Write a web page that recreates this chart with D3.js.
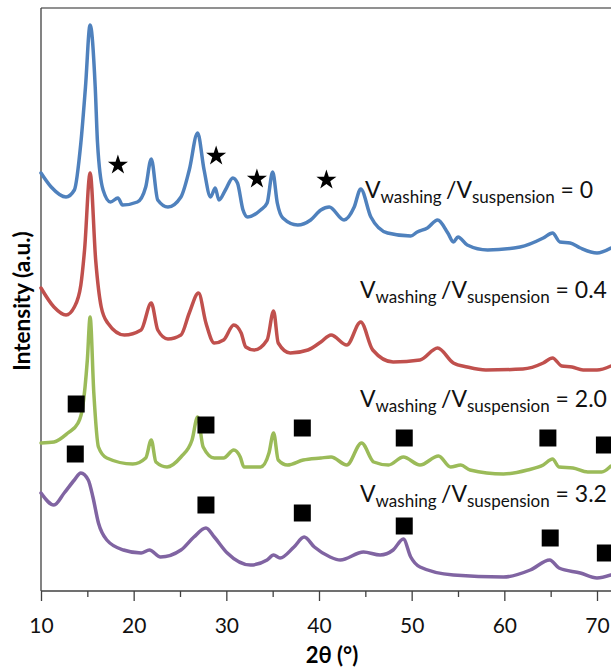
<!DOCTYPE html>
<html><head><meta charset="utf-8">
<script src="https://cdn.jsdelivr.net/npm/d3@7"></script>
<style>body{margin:0;background:#fff}svg{display:block}</style>
</head><body>
<svg id="c" width="611" height="669"></svg>
<script>
// ---- data (2θ in degrees, intensity in arbitrary offset units) ----
const xTicks = [10, 20, 30, 40, 50, 60, 70];
const xMinorTicks = [15, 25, 35, 45, 55, 65];
const ratioLabels = ["0", "0.4", "2.0", "3.2"];

const theta0 = [10,11.1,12.7,13.6,14.3,14.8,15.3,15.85,16.1,16.7,17.5,18.3,18.8,20.4,21.3,21.9,22.6,23.7,25.1,26.0,26.9,27.6,28.3,28.8,29.2,29.9,30.7,31.2,31.8,32.3,33.7,34.4,35.0,35.5,36.1,37.7,39.1,40.2,41.1,42.7,43.8,44.5,45.6,47.4,49.9,50.6,51.7,52.8,53.9,54.5,55.0,56.0,58.2,61.7,64.2,65.2,66.0,67.1,68.2,70.0,71.5];
const int0   = [418,404,394,401,448,504,566,504,448,401,389,393,386,389,404,432,391,384,394,421,458,421,394,403,391,401,413,408,381,374,381,388,419,388,373,366,371,381,384,371,384,402,374,358,355,359,363,371,358,349,354,346,341,344,353,358,349,348,343,338,343];

const theta1 = [10,11.4,12.7,13.6,14.3,14.7,15.3,15.9,16.5,17.2,19,20.8,21.9,22.6,23.7,25.1,26,27,27.8,28.7,29.7,30.8,31.6,32.1,33,34.4,35.1,35.6,36.9,38.8,40.2,41.3,43,44.5,45.8,48,50.9,52.8,54.5,56,58,62,64.2,65.2,66.2,67.3,68.5,70,71.5];
const int1   = [303,284,276,284,306,341,418,331,284,268,256,261,288,261,252,256,278,298,268,248,251,266,258,244,241,251,280,248,238,241,249,256,246,269,241,229,231,243,228,224,221,222,228,233,225,224,221,221,225];

const theta2 = [10,11.4,12.9,14,14.5,15,15.3,15.7,16.2,17.1,19.9,21.3,21.9,22.4,23.6,25.1,26.3,26.9,27.5,28.7,29.7,30.8,31.5,31.9,33.7,34.6,35.1,35.6,36.6,38.3,40.2,41.3,43,44.6,45.9,47.5,49.1,50.9,52.9,54.2,55.3,56.3,59.9,62.5,64.2,65.2,65.9,67.4,69,70.5,71.5];
const int2   = [148,149,158,168,184,231,274,198,144,133,127,133,151,129,124,134,151,174,144,133,133,141,134,124,124,138,158,131,126,131,133,134,126,148,129,126,134,126,135,124,126,121,117,121,126,132,124,123,119,119,125];

const theta3 = [10,11.4,12.5,13.6,14.3,15.1,15.6,16.2,17.1,18.9,20.8,21.7,22.9,25.1,26.5,27.8,28.7,30.1,32.6,34.4,35.1,35.8,37.3,38.4,39.5,41.2,42.3,44.8,46.6,48,49.1,49.9,50.9,54.5,59.9,62.8,64.9,65.9,68.2,70,71.5];
const int3   = [98,86,98,111,118,111,94,68,51,41,38,41,34,41,54,63,54,38,26,31,36,33,44,54,44,34,31,39,36,41,52,34,24,16,14,21,31,23,18,13,16];

const starTheta = [18.3, 28.9, 33.3, 40.8];
const starInt   = [426, 435, 412, 411];

const squareThetaA = [13.8, 27.8, 38.2, 49.2, 64.7, 70.8];
const squareIntA   = [187, 166, 163, 153, 153, 146];
const squareThetaB = [13.7, 27.8, 38.2, 49.2, 64.95, 70.9];
const squareIntB   = [137, 86, 78, 65, 53, 38];

// ---- drawing ----
const colors = ["#4f81bd", "#c0504d", "#9bbb59", "#8064a2"];
const svg = d3.select("#c");
const W = 611, H = 669;
const mLeft = 41, mTop = 8, mBottom = 591;
const x = d3.scaleLinear().domain([10, 70]).range([mLeft, 597]);
const y = d3.scaleLinear().domain([0, 583]).range([mBottom, mTop]);
const font = "Lato, 'Open Sans', sans-serif";

// frame
svg.append("line").attr("x1", mLeft).attr("x2", W).attr("y1", mTop).attr("y2", mTop)
  .attr("stroke", "#6d6d6d").attr("stroke-width", 1.3);
svg.append("line").attr("x1", mLeft).attr("x2", mLeft).attr("y1", mTop).attr("y2", mBottom)
  .attr("stroke", "#404040").attr("stroke-width", 1.3);

const series = [[theta0, int0], [theta1, int1], [theta2, int2], [theta3, int3]];
const line = d3.line().x(d => x(d[0])).y(d => y(d[1])).curve(d3.curveMonotoneX);
series.forEach((s, i) => {
  const pts = s[0].map((t, k) => [t, s[1][k]]);
  svg.append("path").datum(pts).attr("d", line)
    .attr("fill", "none").attr("stroke", colors[i]).attr("stroke-width", 3.5)
    .attr("stroke-linejoin", "round").attr("stroke-linecap", "round");
});

// x axis
const gx = svg.append("g").attr("transform", `translate(0,${mBottom})`);
gx.call(d3.axisBottom(x).tickValues(xTicks).tickSize(10).tickSizeOuter(0));
gx.select(".domain").remove();
gx.selectAll(".tick line").attr("stroke", "#404040").attr("stroke-width", 1.3);
gx.selectAll(".tick text").attr("font-family", font).attr("font-size", 21).attr("fill", "#111")
  .attr("y", 27).attr("dy", "0.71em");
const gm = svg.append("g").attr("transform", `translate(0,${mBottom})`);
gm.call(d3.axisBottom(x).tickValues(xMinorTicks).tickSize(6).tickFormat(""));
gm.select(".domain").remove();
gm.selectAll(".tick line").attr("stroke", "#404040").attr("stroke-width", 1.3);
svg.append("line").attr("x1", mLeft).attr("x2", W).attr("y1", mBottom).attr("y2", mBottom)
  .attr("stroke", "#404040").attr("stroke-width", 1.3);

// axis titles
svg.append("text").attr("x", 332).attr("y", 663).attr("text-anchor", "middle")
  .attr("font-family", font).attr("font-weight", "bold").attr("font-size", 22).attr("fill", "#000")
  .text("2θ (°)");
svg.append("text").attr("transform", "translate(30,301) rotate(-90)").attr("text-anchor", "middle")
  .attr("font-family", font).attr("font-weight", "bold").attr("font-size", 22.5).attr("fill", "#000")
  .text("Intensity (a.u.)");

// stars
const star = d3.symbol().type(d3.symbolStar).size(125);
svg.selectAll(".star").data(starTheta).enter().append("path")
  .attr("d", star).attr("fill", "#000")
  .attr("transform", (d, i) => `translate(${x(d)},${y(starInt[i])})`);

// squares
const sq = d3.symbol().type(d3.symbolSquare).size(289);
[[squareThetaA, squareIntA], [squareThetaB, squareIntB]].forEach(s => {
  svg.selectAll(null).data(s[0]).enter().append("path")
    .attr("d", sq).attr("fill", "#000")
    .attr("transform", (d, i) => `translate(${x(d)},${y(s[1][i])})`);
});

// labels
const labelPos = [[365, 198], [360, 298], [360, 407], [360, 502]];
ratioLabels.forEach((r, i) => {
  const t = svg.append("text").attr("x", labelPos[i][0]).attr("y", labelPos[i][1])
    .attr("font-family", font).attr("fill", "#111").attr("font-size", 23);
  t.append("tspan").text("V");
  t.append("tspan").attr("font-size", 17).attr("dy", 5).text("washing ");
  t.append("tspan").attr("dy", -5).text("/V");
  t.append("tspan").attr("font-size", 17).attr("dy", 5).text("suspension");
  t.append("tspan").attr("dy", -5).text(" = " + r);
});
</script>
</body></html>
